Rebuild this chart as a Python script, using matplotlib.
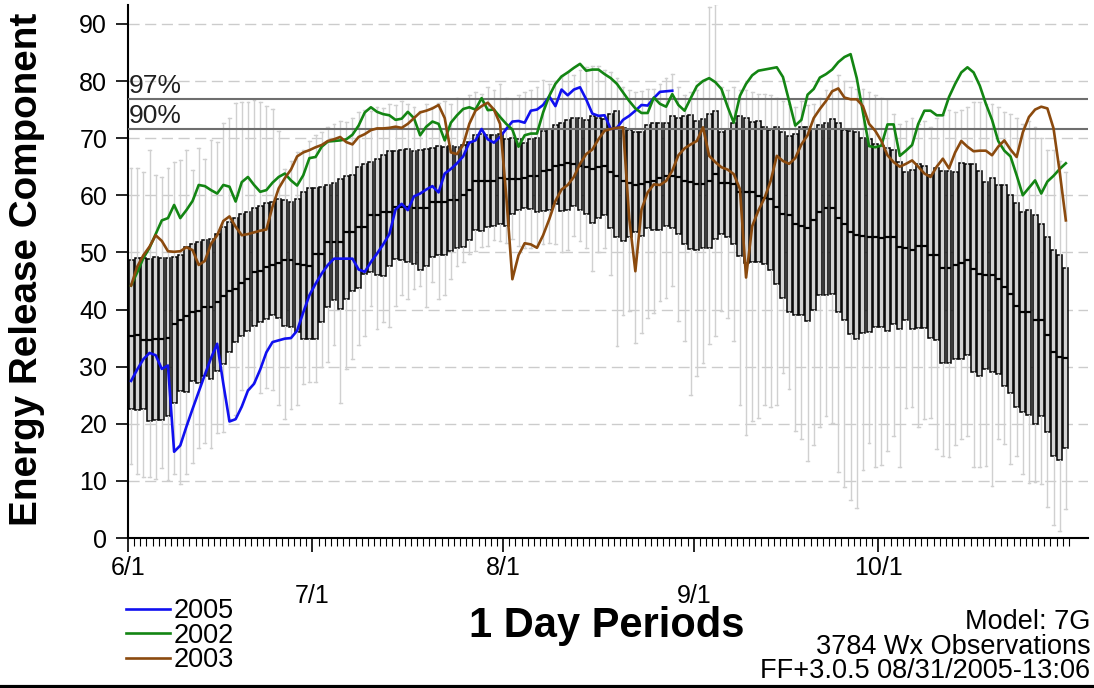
import numpy as np
import matplotlib.pyplot as plt
from matplotlib.lines import Line2D

plt.rcParams['font.family'] = ['Liberation Sans', 'DejaVu Sans']

# daily ERC climatology, 6/1 .. 10/31 (one box per day)
hi = [64.7, 64.7, 64.1, 67.9, 63.5, 63.2, 64.7, 65.8, 66.1, 67.9, 64.4, 68.2, 66.4, 69.6, 69.3,
      72.6, 73.5, 76.1, 76.4, 76.4, 76.7, 76.3, 75.6, 75.1, 71.3, 64.6, 66.0, 67.5, 68.0, 69.5,
      70.5, 71.0, 72.0, 72.5, 73.0, 72.8, 73.5, 74.5, 75.0, 74.8, 75.5, 75.2, 76.0, 75.8, 76.5,
      76.0, 75.5, 74.8, 76.0, 75.5, 76.2, 76.5, 76.0, 77.0, 76.8, 77.5, 78.0, 77.8, 79.0, 78.5, 79.5,
      77.0, 76.9, 77.5, 78.0, 78.5, 79.0, 80.2, 79.5, 80.0, 80.8, 81.5, 81.0, 82.0, 82.5, 82.7,
      82.7, 82.0, 81.5, 80.5, 79.0, 78.5, 78.0, 78.3, 78.6, 78.6, 79.5, 80.5, 81.3, 79.0, 77.5, 78.0,
      78.5, 80.0, 93.0, 93.5, 79.0, 78.5, 78.9, 78.5, 78.5, 78.0, 77.7, 77.7, 77.5, 77.0, 76.5,
      76.0, 75.5, 76.5, 75.8, 76.0, 77.0, 78.5, 80.0, 81.0, 80.0, 79.0, 78.6, 78.6, 78.0, 77.5, 77.0,
      76.9, 74.2, 72.5, 73.0, 73.5, 72.5, 73.0, 72.0, 73.5, 74.0, 75.0, 74.5, 75.0, 75.5, 76.3,
      76.3, 76.0, 76.0, 75.5, 74.5, 74.2, 73.5, 72.5, 73.0, 72.0, 70.0, 68.0, 68.0, 66.0, 64.0]
q3 = [48.6, 49.0, 49.0, 48.9, 49.2, 49.0, 49.1, 49.2, 49.5, 50.9, 51.5, 51.9, 52.1, 52.4, 53.3,
      54.4, 55.3, 56.0, 56.8, 57.0, 57.8, 58.2, 58.7, 58.8, 59.3, 59.1, 58.9, 59.3, 60.5, 61.2,
      61.2, 61.5, 61.8, 62.2, 62.9, 63.4, 63.6, 65.0, 65.4, 65.8, 66.4, 67.0, 67.7, 67.7, 67.9,
      68.1, 67.7, 67.9, 68.1, 68.2, 68.7, 68.4, 68.7, 68.5, 68.8, 69.3, 70.6, 70.8, 70.6, 70.5, 70.8,
      69.9, 70.1, 69.8, 69.2, 69.8, 70.1, 71.3, 71.6, 72.3, 72.6, 73.2, 73.5, 73.5, 73.2, 73.8,
      73.6, 73.4, 74.2, 74.8, 71.7, 71.5, 71.0, 71.1, 72.3, 72.6, 72.7, 72.7, 73.8, 73.5, 73.9, 74.0,
      73.0, 73.3, 74.2, 74.8, 71.1, 71.6, 72.6, 73.8, 73.5, 72.9, 73.0, 71.9, 71.5, 71.9, 71.1,
      70.4, 70.7, 71.9, 72.0, 71.6, 72.3, 72.6, 73.3, 72.6, 71.5, 71.3, 71.0, 70.1, 69.8, 68.9, 68.7,
      68.2, 68.0, 65.8, 64.1, 64.4, 65.4, 65.1, 63.5, 64.7, 64.2, 64.2, 64.0, 65.6, 65.4, 65.4,
      64.2, 62.3, 63.0, 61.8, 61.8, 60.1, 58.7, 57.1, 57.5, 56.5, 54.9, 52.7, 50.5, 49.5, 47.3]
med = [35.4, 35.5, 34.7, 34.7, 34.8, 34.9, 35.1, 37.5, 38.1, 38.9, 39.5, 39.8, 40.4, 40.4, 41.4,
       42.3, 43.3, 43.6, 44.7, 45.4, 46.5, 46.8, 47.4, 47.8, 48.2, 48.6, 48.6, 48.0, 47.8, 47.7,
       49.8, 49.8, 51.8, 51.8, 51.8, 53.6, 53.6, 54.4, 54.4, 56.6, 56.6, 57.1, 57.1, 58.0, 58.0,
       58.0, 57.8, 57.8, 57.8, 58.8, 58.8, 58.8, 59.1, 59.1, 60.0, 60.9, 62.5, 62.5, 62.5, 62.5, 63.0,
       62.8, 62.8, 62.9, 63.1, 63.4, 63.4, 64.3, 64.4, 65.1, 65.3, 65.7, 65.5, 65.1, 65.0, 64.6,
       65.0, 65.1, 64.0, 63.4, 62.5, 62.2, 61.8, 61.9, 62.3, 62.5, 63.1, 63.4, 63.4, 63.2, 62.5, 62.3,
       61.9, 61.9, 62.5, 63.7, 62.2, 62.2, 61.9, 60.5, 60.6, 60.5, 59.9, 59.5, 59.3, 58.0, 56.7,
       56.5, 54.9, 54.6, 54.3, 55.6, 57.1, 57.7, 57.8, 56.1, 54.9, 53.5, 53.0, 52.9, 52.7, 52.7, 52.6,
       52.7, 52.7, 50.9, 50.7, 50.5, 51.1, 51.1, 49.6, 49.6, 47.3, 47.3, 47.8, 48.2, 48.7, 47.1,
       46.3, 46.0, 46.0, 45.3, 44.0, 42.7, 40.7, 39.5, 39.5, 38.2, 38.1, 35.5, 32.6, 31.6, 31.5]
q1 = [22.6, 22.4, 22.5, 20.5, 20.6, 20.7, 21.4, 23.7, 25.8, 25.5, 27.5, 27.2, 28.4, 27.8, 29.3,
      30.5, 32.5, 34.3, 35.4, 36.3, 37.2, 37.8, 38.4, 39.0, 38.6, 37.2, 36.9, 36.0, 34.8, 34.8,
      34.8, 37.8, 40.4, 41.6, 40.1, 41.9, 43.3, 43.7, 46.3, 46.6, 46.0, 45.8, 47.7, 48.9, 48.6,
      48.4, 48.0, 47.0, 47.7, 49.2, 49.5, 49.6, 50.2, 50.8, 51.0, 52.1, 54.0, 53.8, 54.4, 54.7, 54.9,
      54.6, 56.7, 57.4, 57.8, 57.6, 57.1, 57.2, 57.5, 58.4, 57.3, 57.4, 58.1, 57.5, 56.7, 55.2,
      56.1, 56.5, 54.2, 52.7, 52.0, 52.7, 53.5, 52.8, 54.3, 54.0, 54.0, 54.6, 54.3, 53.2, 51.4, 50.6,
      50.5, 50.8, 50.8, 52.4, 53.2, 52.7, 51.4, 49.4, 48.2, 48.3, 48.4, 47.9, 46.9, 44.5, 42.0,
      39.6, 39.1, 39.0, 38.0, 40.0, 42.5, 42.5, 42.8, 39.6, 38.2, 35.7, 34.8, 35.9, 36.0, 37.0, 37.0,
      36.3, 37.5, 36.6, 38.1, 36.6, 36.7, 36.7, 35.0, 34.6, 30.6, 30.6, 31.3, 31.3, 32.0, 29.0,
      28.4, 29.6, 29.0, 28.7, 26.6, 25.4, 22.9, 22.0, 21.5, 20.0, 21.4, 18.6, 14.4, 13.7, 15.8]
lo = [12.9, 11.2, 10.6, 10.6, 10.3, 12.3, 10.2, 11.2, 9.4, 11.2, 13.2, 15.8, 16.7, 15.8, 18.3,
      18.6, 20.9, 21.5, 25.9, 26.0, 27.3, 25.3, 26.2, 25.9, 23.2, 20.8, 22.5, 23.2, 27.0, 27.3,
      27.3, 30.0, 30.8, 33.7, 23.7, 29.6, 31.3, 33.7, 35.4, 40.7, 36.6, 37.8, 36.9, 40.7, 42.5,
      41.9, 43.6, 44.2, 40.4, 44.8, 41.9, 42.5, 45.4, 47.7, 48.3, 49.8, 50.2, 50.9, 51.2, 52.1, 52.0,
      51.7, 52.3, 51.1, 50.8, 50.8, 51.1, 51.4, 51.7, 51.4, 50.1, 50.5, 52.9, 52.0, 50.8, 46.7,
      50.0, 50.8, 46.0, 33.6, 39.1, 39.7, 34.2, 35.9, 38.5, 39.4, 41.5, 42.0, 44.1, 38.0, 34.4, 25.1,
      28.3, 30.6, 33.9, 35.3, 39.7, 38.5, 34.4, 23.3, 18.1, 20.4, 21.0, 23.3, 23.0, 23.3, 28.9,
      26.0, 18.7, 17.3, 13.4, 16.3, 19.5, 21.3, 20.2, 11.6, 9.0, 6.7, 5.2, 11.9, 16.6, 12.5, 12.8,
      15.3, 17.9, 12.5, 22.8, 22.9, 19.5, 20.8, 21.0, 15.6, 14.4, 14.1, 16.3, 17.3, 17.8, 12.5,
      12.4, 12.6, 9.1, 17.3, 16.5, 12.9, 14.4, 11.2, 9.6, 9.8, 9.5, 5.5, 2.3, 1.3, 5.0]

# individual years (daily ERC)
erc_2005 = [27.5, 29.5, 31.3, 32.4, 32.0, 29.6, 30.2, 15.1, 16.2, 19.5, 22.6, 25.6, 28.6, 31.5, 34.0,
            27.0, 20.4, 20.8, 23.0, 25.8, 27.0, 29.5, 32.5, 34.3, 34.6, 34.9, 35.0, 36.3, 39.5, 42.5,
            44.5, 46.3, 47.8, 48.9, 48.9, 48.9, 48.9, 47.0, 46.6, 48.3, 49.8, 51.4, 53.2, 57.5, 58.5,
            57.4, 59.8, 60.3, 61.0, 61.6, 60.5, 63.8, 64.6, 65.6, 66.8, 69.2, 69.6, 71.6, 69.8, 69.2, 70.2,
            71.6, 72.9, 73.0, 72.7, 74.8, 75.0, 75.8, 77.3, 75.6, 78.5, 77.5, 78.5, 78.9, 76.8, 74.3,
            73.9, 74.0, 71.6, 71.8, 73.2, 73.9, 74.8, 75.8, 75.7, 77.0, 78.1, 78.2, 78.3]
erc_2002 = [44.2, 46.5, 49.0, 50.8, 53.2, 55.6, 56.0, 58.3, 56.0, 57.4, 59.0, 61.8, 61.6, 60.9, 60.3,
            61.8, 61.5, 58.9, 62.3, 63.2, 61.8, 60.6, 60.9, 62.2, 63.2, 63.8, 62.6, 61.7, 63.5, 66.5,
            66.7, 68.5, 69.4, 69.5, 69.6, 69.8, 70.6, 72.2, 74.5, 75.4, 74.6, 74.2, 74.0, 73.2, 73.4,
            74.6, 73.5, 70.5, 72.0, 72.9, 72.5, 69.6, 72.7, 74.0, 75.1, 75.4, 75.0, 77.0, 74.9, 75.0, 73.7,
            72.5, 71.5, 68.5, 70.5, 70.8, 70.8, 74.5, 77.4, 79.5, 80.8, 81.5, 82.3, 83.0, 81.8, 82.0,
            82.0, 81.2, 80.5, 79.5, 78.0, 76.5, 75.2, 74.4, 74.4, 77.1, 76.0, 75.5, 77.7, 75.8, 74.8, 77.0,
            79.1, 80.0, 80.5, 79.8, 78.6, 75.5, 72.7, 77.4, 79.5, 81.0, 81.8, 82.0, 82.2, 82.4, 80.7,
            76.5, 72.2, 73.2, 77.6, 78.6, 80.6, 81.2, 82.0, 83.3, 84.2, 84.7, 80.5, 74.5, 68.6, 68.4, 68.7,
            72.4, 72.4, 66.9, 67.8, 68.8, 72.5, 74.8, 74.8, 74.0, 74.0, 77.2, 79.5, 81.5, 82.4, 81.5,
            79.2, 76.0, 73.2, 69.5, 67.8, 66.8, 63.5, 60.0, 61.3, 62.6, 60.3, 62.4, 63.4, 64.6, 65.6]
erc_2003 = [44.2, 47.5, 49.5, 51.0, 53.0, 52.0, 50.2, 50.1, 50.2, 50.9, 50.4, 47.8, 48.5, 51.5, 53.0,
            55.5, 56.3, 54.5, 53.0, 53.2, 53.5, 53.8, 54.0, 58.0, 61.2, 63.0, 64.5, 66.8, 67.5, 67.9,
            68.4, 68.8, 69.5, 69.8, 70.2, 69.3, 68.9, 70.2, 70.7, 71.4, 71.7, 71.7, 71.8, 72.0, 71.8,
            72.5, 73.5, 74.5, 74.8, 75.2, 75.8, 73.5, 67.5, 67.2, 68.8, 72.5, 74.8, 75.6, 76.2, 75.0, 72.5,
            60.0, 45.3, 49.5, 51.6, 51.4, 50.8, 53.0, 55.8, 59.0, 61.0, 61.8, 63.2, 65.5, 67.2, 68.0,
            69.8, 71.3, 71.6, 71.8, 71.9, 56.0, 46.7, 57.5, 60.5, 61.9, 61.8, 62.5, 64.3, 67.0, 68.2, 68.9,
            69.5, 71.9, 66.9, 65.8, 64.9, 64.5, 63.7, 61.1, 45.6, 54.6, 57.3, 59.5, 62.5, 66.9, 66.0,
            65.5, 66.5, 68.9, 70.5, 73.5, 75.1, 76.5, 78.2, 78.7, 77.1, 76.8, 76.8, 75.6, 72.5, 71.3, 69.5,
            67.0, 65.8, 65.0, 65.5, 66.1, 65.0, 63.8, 63.2, 65.0, 66.4, 64.7, 67.5, 69.5, 68.5, 67.7,
            67.8, 67.8, 67.0, 68.5, 69.6, 68.0, 66.7, 71.0, 73.7, 75.0, 75.5, 75.2, 71.7, 64.1, 55.6]

pct_97 = 76.9
pct_90 = 71.6

month_days = [0, 30, 61, 92, 122]
month_labels = ['6/1', '\n7/1', '8/1', '\n9/1', '10/1']

days = np.arange(len(med)) + 0.5

fig = plt.figure(figsize=(10.94, 6.88), dpi=100)
ax = fig.add_axes([0.117, 0.218, 0.8775, 0.7747])

stats = [dict(med=m, q1=a, q3=b, whislo=l, whishi=h)
         for m, a, b, l, h in zip(med, q1, q3, lo, hi)]
ax.bxp(stats, positions=days, widths=0.8, showfliers=False, patch_artist=True,
       manage_ticks=False, capwidths=0.45,
       boxprops=dict(facecolor='#d4d4d4', edgecolor='black', linewidth=1.1),
       medianprops=dict(color='black', linewidth=1.6),
       whiskerprops=dict(color='#d0d0d0', linewidth=1.0),
       capprops=dict(color='#d0d0d0', linewidth=1.0))

ax.axhline(pct_97, color='#6e6e6e', lw=1.5, zorder=3)
ax.axhline(pct_90, color='#6e6e6e', lw=1.5, zorder=3)
ax.text(0.1, pct_97 + 0.2, '97%', fontsize=19, va='bottom', ha='left', color='#202020')
ax.text(0.1, pct_90 + 0.2, '90%', fontsize=19, va='bottom', ha='left', color='#202020')

l05, = ax.plot(days[:len(erc_2005)], erc_2005, color='#1010f0', lw=1.9, zorder=4, label='2005')
l02, = ax.plot(days[:len(erc_2002)], erc_2002, color='#138513', lw=1.9, zorder=4, label='2002')
l03, = ax.plot(days[:len(erc_2003)], erc_2003, color='#8b4a0e', lw=1.9, zorder=4, label='2003')

ax.set_xlim(0, 156.1)
ax.set_ylim(0, 93.3)
ax.set_yticks(range(0, 91, 10))
ax.yaxis.grid(True, linestyle=(0, (8, 4)), color='#cccccc', lw=1.0)
ax.set_axisbelow(True)
ax.set_xticks(month_days, month_labels)
ax.set_xticks(np.arange(0, 154), minor=True)
ax.tick_params(axis='y', direction='out', length=9, width=1.2, labelsize=18, pad=6)
ax.tick_params(axis='x', which='major', direction='out', length=10, width=1.2,
               labelsize=18, pad=3)
ax.tick_params(axis='x', which='minor', direction='out', length=6, width=0.8)
for s in ['top', 'right']:
    ax.spines[s].set_visible(False)
ax.spines['left'].set_linewidth(1.5)
ax.spines['bottom'].set_linewidth(1.5)

fig.text(0.025, 0.608, 'Energy Release Component', rotation=90, fontsize=27.8,
         fontweight='bold', ha='center', va='center')
fig.text(0.555, 1 - 626 / 688, '1 Day Periods', fontsize=30, fontweight='bold',
         ha='center', va='center')
fig.text(0.9965, 1 - 622 / 688, 'Model: 7G', fontsize=19.5, ha='right', va='center')
fig.text(0.9965, 1 - 647 / 688, '3784 Wx Observations', fontsize=19.5, ha='right', va='center')
fig.text(0.9965, 1 - 671 / 688, 'FF+3.0.5 08/31/2005-13:06', fontsize=19.5, ha='right', va='center')

fig.legend(handles=[l05, l02, l03], loc='upper left', bbox_to_anchor=(0.115, 1 - 598 / 688),
           frameon=False, fontsize=19.5, handlelength=1.65, handletextpad=0.1,
           labelspacing=-0.05, borderpad=0, borderaxespad=0)

fig.add_artist(Line2D([0, 1], [0.002, 0.002], color='black', lw=3))

fig.savefig('out.png', dpi=100)
